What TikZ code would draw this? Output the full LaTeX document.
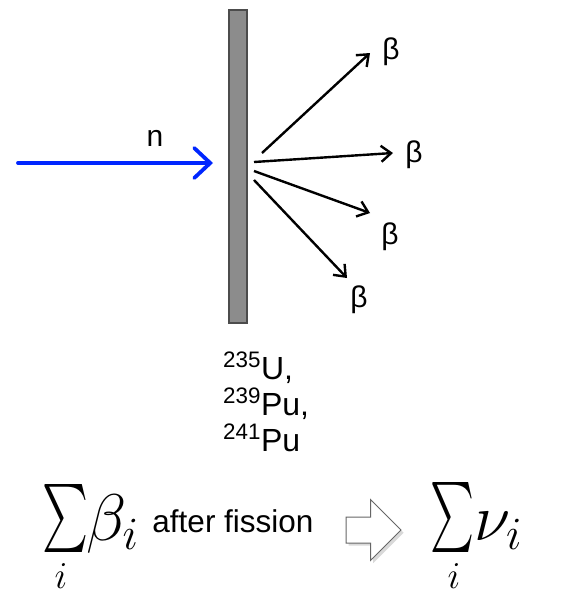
\RequirePackage{fix-cm}
\documentclass[tikz,border=0pt]{standalone}
\usepackage{exscale}
\usepackage{graphicx}
\usepackage[no-math]{fontspec}
\setmainfont{Liberation Sans}
\usetikzlibrary{arrows.meta, shapes.arrows, shadows}

\begin{document}
\begin{tikzpicture}[x=1pt, y=-1pt,
    txt/.style={font=\fontsize{30}{34}\selectfont, inner sep=0pt},
    ray/.style={line width=2.4pt, -{Straight Barb[length=10pt, width=16pt]}},
    sums/.style={font=\fontsize{66}{70}\selectfont, inner sep=0pt, anchor=base west},
    idx/.style={font=\fontsize{38}{42}\selectfont, inner sep=0pt, anchor=base}]
        \useasboundingbox (0,0) rectangle (562,600);

        % Target foil
        \node[draw=black!70, fill=black!45, line width=1.2pt, minimum width=18pt,
            minimum height=313pt, inner sep=0pt] (foil) at (238,166.5) {};

        % Incoming neutron
        \coordinate (nstart) at (18,163);
        \coordinate (nend) at (213,163);
        \draw[blue!85!cyan, line width=3.8pt, line cap=round,
            -{Straight Barb[length=16pt, width=30pt, line cap=round]}] (nstart) -- (nend);
        \node[txt] (n) at (155,138) {n};

        % Emitted betas
        \coordinate (s1) at (262,153);
        \coordinate (s2) at (254,162);
        \coordinate (s3) at (254,171);
        \coordinate (s4) at (254,180);
        \coordinate (e1) at (370,53);
        \coordinate (e2) at (393,153);
        \coordinate (e3) at (370,213);
        \coordinate (e4) at (347,278);
        \node[txt] (b1) at (391,52) {β};
        \node[txt] (b2) at (414,155) {β};
        \node[txt] (b3) at (390,237) {β};
        \node[txt] (b4) at (359,300) {β};
        \draw[ray] (s1) -- (e1);
        \draw[ray] (s2) -- (e2);
        \draw[ray] (s3) -- (e3);
        \draw[ray] (s4) -- (e4);

        % Fissile isotopes
        \node[txt, font=\fontsize{32}{36}\selectfont, align=left, anchor=north west] (fuel) at (223,352)
            {\textsuperscript{235}U,\\ \textsuperscript{239}Pu,\\ \textsuperscript{241}Pu};

        % Beta sum
        \node[inner sep=0pt] (sig1) at (66,518) {\resizebox*{46pt}{68pt}{$\sum$}};
        \node[sums] (beta) at (86,540) {$\beta_i$};
        \node[idx] (i1) at (61,588) {$i$};
        \node[txt, font=\fontsize{31.5}{34}\selectfont] (fission) at (233,521) {after fission};

        % Conversion arrow
        \node[single arrow, draw=black!60, fill=white, line width=1pt, drop shadow={opacity=0.3},
            minimum height=55pt, minimum width=60pt, inner sep=12.5pt,
            single arrow head extend=17.5pt] (conv) at (367,530) {};

        % Neutrino sum
        \node[inner sep=0pt] (sig2) at (452,517) {\resizebox*{44pt}{70pt}{$\sum$}};
        \node[sums] (nu) at (474,540) {$\nu_i$};
        \node[idx] (i2) at (454,588) {$i$};
\end{tikzpicture}
\end{document}
